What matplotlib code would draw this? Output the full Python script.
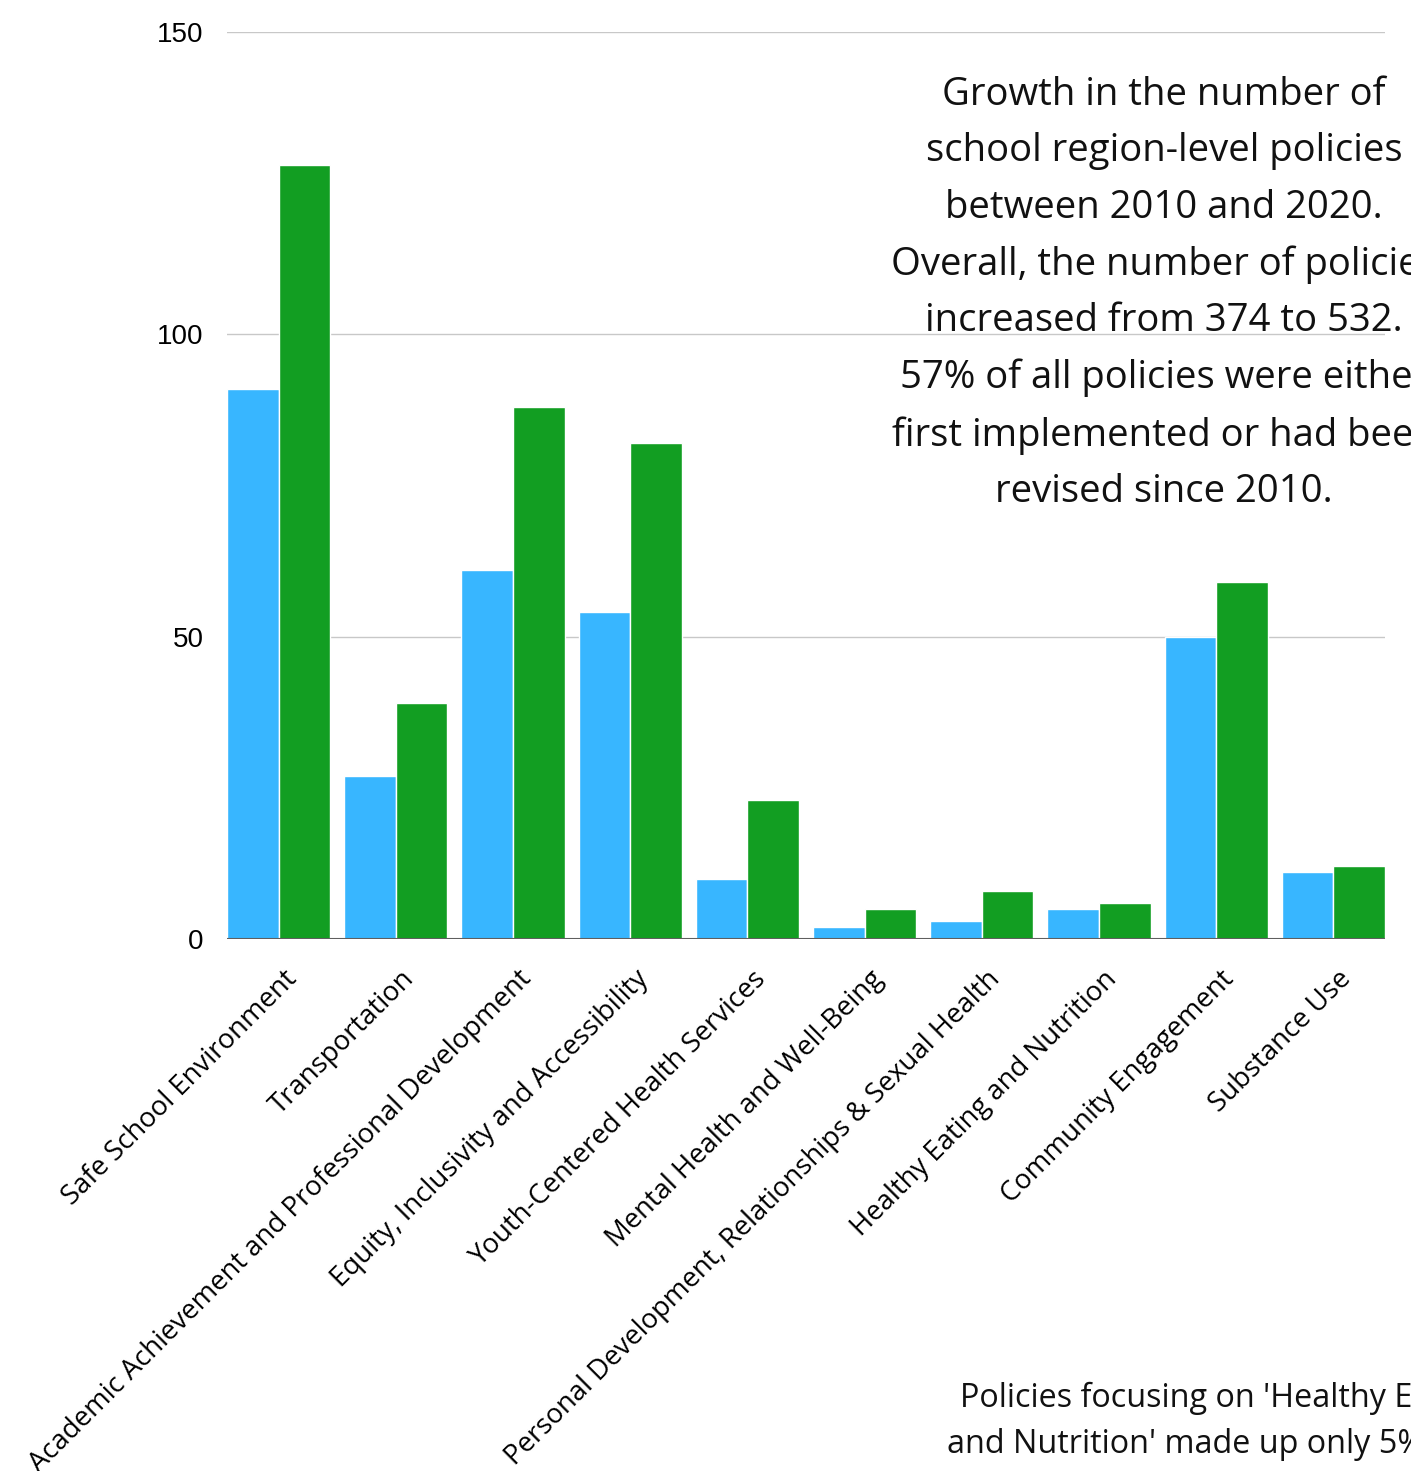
import matplotlib
matplotlib.use("Agg")
import matplotlib.pyplot as plt
import matplotlib.transforms as mtransforms
import numpy as np

categories = [
    "Safe School Environment",
    "Transportation",
    "Academic Achievement and Professional Development",
    "Equity, Inclusivity and Accessibility",
    "Youth-Centered Health Services",
    "Mental Health and Well-Being",
    "Personal Development, Relationships & Sexual Health",
    "Healthy Eating and Nutrition",
    "Community Engagement",
    "Substance Use",
]
policies_2010 = [91, 27, 61, 54, 10, 2, 3, 5, 50, 11]
policies_2020 = [128, 39, 88, 82, 23, 5, 8, 6, 59, 12]
y_ticks = [0, 50, 100, 150]

annotation = ("Growth in the number of\n"
              "school region-level policies\n"
              "between 2010 and 2020.\n"
              "Overall, the number of policies\n"
              "increased from 374 to 532.\n"
              "57% of all policies were either\n"
              "first implemented or had been\n"
              "revised since 2010.")
note_line1 = "Policies focusing on 'Healthy Eating"
note_line2 = "and Nutrition' made up only 5% of"

BLUE = "#38B6FF"
GREEN = "#129E22"

W, H = 1411, 1471
fig = plt.figure(figsize=(W / 100, H / 100), dpi=100)
ax = fig.add_axes([227 / W, 1 - 939 / H, (1385 - 227) / W, (939 - 32) / H])

x = np.arange(len(categories))
w = 0.44
ax.bar(x - w / 2, policies_2010, width=w, color=BLUE, edgecolor="white", linewidth=1, zorder=3)
ax.bar(x + w / 2, policies_2020, width=w, color=GREEN, edgecolor="white", linewidth=1, zorder=3)

ax.set_xlim(-w, len(categories) - 1 + w)
ax.set_ylim(0, 150)
ax.set_yticks(y_ticks)
ax.set_yticklabels([str(v) for v in y_ticks], fontsize=20, family="Liberation Sans")
ax.tick_params(axis="y", length=0, pad=17)
ax.grid(axis="y", color="#c8c8c8", linewidth=1, zorder=0)
for s in ax.spines.values():
    s.set_visible(False)
ax.axhline(0, color="#5f5f5f", linewidth=1.5, zorder=4)

ax.set_xticks(x)
ax.set_xticklabels(categories, rotation=45, ha="right", va="center",
                   rotation_mode="anchor", fontsize=19.8, family="Open Sans")
ax.tick_params(axis="x", length=0, pad=0)
offset = mtransforms.ScaledTranslation(0.14, -0.36, fig.dpi_scale_trans)
for lbl in ax.get_xticklabels():
    lbl.set_transform(lbl.get_transform() + offset)

fig.text(1164 / W, 1 - 76 / H, annotation, ha="center", va="top",
         fontsize=27.5, family="Open Sans", linespacing=1.63, color="#111111")

fig.text(960 / W, 1 - 1407 / H, note_line1, ha="left", va="baseline",
         fontsize=23.3, family="Open Sans", color="#111111")
fig.text(947 / W, 1 - 1453 / H, note_line2, ha="left", va="baseline",
         fontsize=23.3, family="Open Sans", color="#111111")

fig.savefig("out.png", dpi=100, facecolor="white")
